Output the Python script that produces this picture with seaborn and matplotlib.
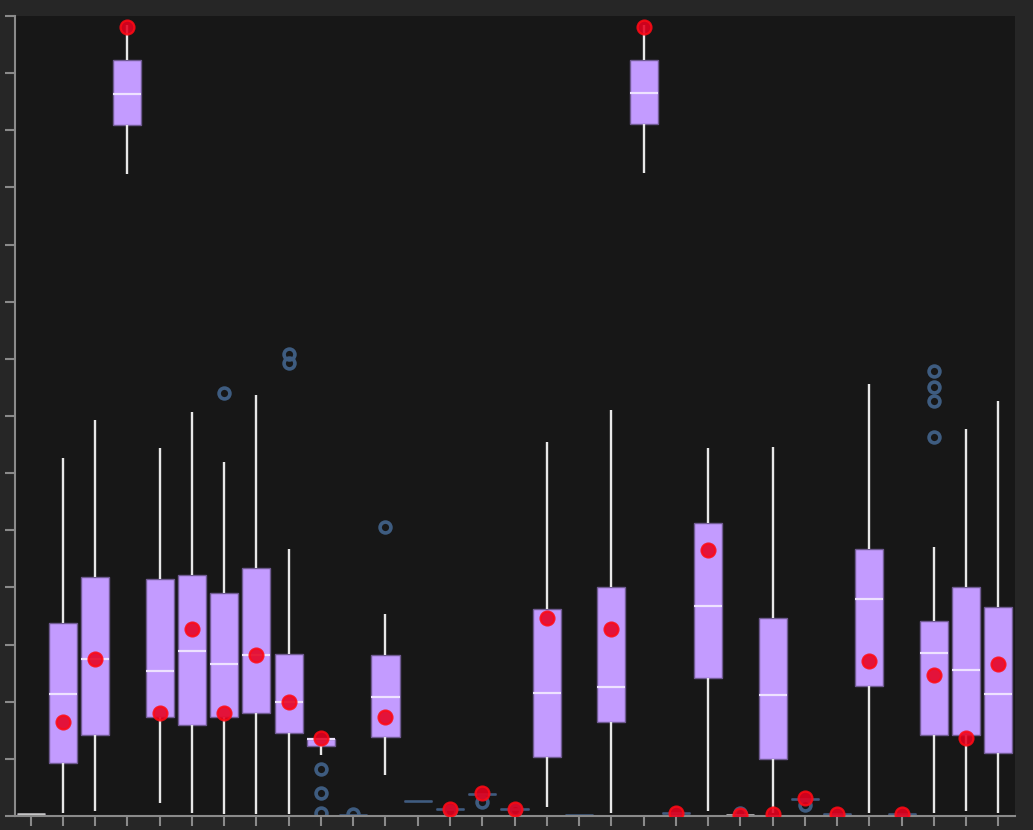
import numpy as np
import pandas as pd
import matplotlib
matplotlib.use("Agg")
import matplotlib.pyplot as plt
import seaborn as sns

# ---- data ----
categories = [f"c{i:02d}" for i in range(31)]
whis_lo = [0.03, 0.05, 0.08, 11.24, 0.23, 0.06, 0.03, 0.03, 0.03, 1.07,
           0.01, 0.71, 0.26, 0.13, 0.39, 0.13, 0.16, 0.01, 0.05, 11.25,
           0.05, 0.09, 0.01, 0.05, 0.30, 0.03, 0.06, 0.04, 0.05, 0.09, 0.06]
q1 = [0.03, 0.93, 1.41, 12.10, 1.74, 1.60, 1.74, 1.80, 1.46, 1.22,
      0.01, 1.38, 0.26, 0.13, 0.39, 0.13, 1.03, 0.01, 1.65, 12.11,
      0.05, 2.41, 0.01, 1.00, 0.30, 0.03, 2.27, 0.04, 1.41, 1.41, 1.11]
medians = [0.03, 2.13, 2.75, 12.64, 2.53, 2.89, 2.66, 2.81, 1.99, 1.34,
           0.01, 2.08, 0.26, 0.13, 0.39, 0.13, 2.15, 0.01, 2.26, 12.65,
           0.05, 3.68, 0.01, 2.12, 0.30, 0.03, 3.79, 0.04, 2.85, 2.56, 2.13]
q3 = [0.03, 3.37, 4.19, 13.23, 4.14, 4.21, 3.90, 4.34, 2.84, 1.35,
      0.01, 2.82, 0.26, 0.13, 0.39, 0.13, 3.62, 0.01, 4.00, 13.23,
      0.05, 5.12, 0.01, 3.47, 0.30, 0.03, 4.67, 0.04, 3.41, 4.00, 3.66]
whis_hi = [0.03, 6.26, 6.93, 13.84, 6.44, 7.07, 6.19, 7.36, 4.68, 1.35,
           0.01, 3.54, 0.26, 0.13, 0.39, 0.13, 6.54, 0.01, 7.11, 13.84,
           0.05, 6.44, 0.01, 6.45, 0.30, 0.03, 7.56, 0.04, 4.71, 6.78, 7.26]
outliers = [[], [], [], [], [], [], [7.41], [], [8.09, 7.93], [0.83, 0.40, 0.06],
            [0.03], [5.06], [], [0.09], [0.25], [0.10], [], [], [], [],
            [], [], [0.06], [], [0.19], [], [], [], [7.79, 7.50, 7.26, 6.64], [], []]
means = [np.nan, 1.65, 2.75, 13.81, 1.80, 3.28, 1.80, 2.81, 1.99, 1.36,
         np.nan, 1.73, np.nan, 0.13, 0.40, 0.13, 3.47, np.nan, 3.28, 13.81,
         0.05, 4.65, 0.02, 0.03, 0.32, 0.03, 2.71, 0.04, 2.47, 1.36, 2.66]
light_flat = [0, 22]  # flat boxes whose line reads light grey

# ---- build a long table whose quartiles/whiskers match the stats ----
rows = []
m = 100
for i, cat in enumerate(categories):
    vals = [whis_lo[i]] + [q1[i]] * m + [medians[i]] * m + [q3[i]] * m + [whis_hi[i]] + list(outliers[i])
    rows += [(cat, v) for v in vals]
df = pd.DataFrame(rows, columns=["cat", "value"])
mean_df = pd.DataFrame({"cat": categories, "mean": means}).dropna()

# ---- style ----
sns.set_theme(style="dark", rc={
    "figure.facecolor": "#262626",
    "axes.facecolor": "#171717",
    "axes.edgecolor": "#8a8a8a",
    "axes.grid": False,
    "xtick.color": "#8a8a8a",
    "ytick.color": "#8a8a8a",
    "xtick.bottom": True,
    "ytick.left": True,
})

fig = plt.figure(figsize=(10.33, 8.30), dpi=100)
ax = fig.add_axes([14.5 / 1033, 14 / 830, 1000 / 1033, 800 / 830])

sns.boxplot(
    data=df, x="cat", y="value", order=categories, ax=ax,
    color="#c39bff", saturation=1, width=0.87, whis=1.5,
    boxprops=dict(facecolor="#c39bff", edgecolor="#6f5a92", linewidth=1.0),
    medianprops=dict(color="#eee2ff", linewidth=1.6),
    whiskerprops=dict(color="#e8e8e8", linewidth=1.7),
    capprops=dict(visible=False),
    flierprops=dict(marker="o", markerfacecolor="none", markeredgecolor="#3e5c80",
                    markersize=7.8, markeredgewidth=2.6),
)

# flat (zero-height) boxes: line colour
cont = ax.containers[0]
for i, med in enumerate(cont.medians):
    if q1[i] == q3[i]:
        med.set_color("#c8c8c8" if i in light_flat else "#3e5c80")
        med.set_linewidth(1.8)

sns.stripplot(
    data=mean_df, x="cat", y="mean", order=categories, ax=ax,
    jitter=False, size=10, color="#e8001e", edgecolor="#ff0a14",
    linewidth=1.6, alpha=0.88, zorder=6,
)

ax.set_xlim(-0.5, len(categories) - 0.5)
ax.set_ylim(0, 14)
ax.set_yticks(np.arange(0, 15, 1))
ax.tick_params(axis="both", length=7, width=1.5, labelleft=False, labelbottom=False)
ax.set_xlabel("")
ax.set_ylabel("")
for s in ["top", "right"]:
    ax.spines[s].set_visible(False)
for s in ["left", "bottom"]:
    ax.spines[s].set_linewidth(1.5)

fig.savefig("out.png", dpi=100, facecolor=fig.get_facecolor())
